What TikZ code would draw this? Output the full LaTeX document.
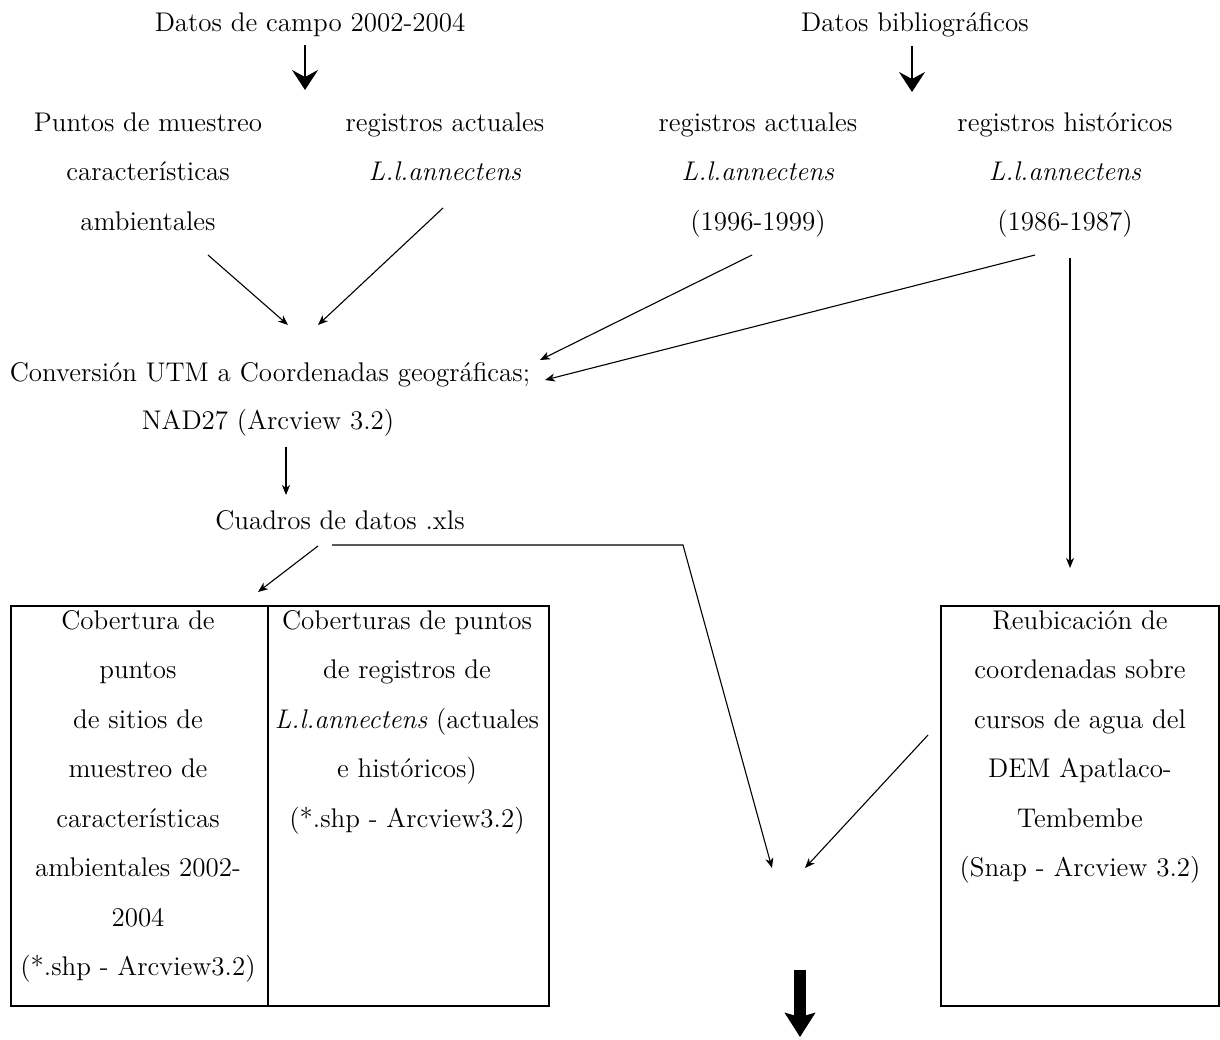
\documentclass[tikz,border=0pt]{standalone}
\usetikzlibrary{arrows.meta}
\begin{document}
\begin{tikzpicture}[x=0.5pt,y=-0.5pt,
  txt/.style={inner sep=0pt, align=center, font=\fontsize{13.5}{24.75}\selectfont},
  thinarrow/.style={line width=0.55pt, -{Stealth[length=5pt,width=4pt,inset=1.5pt]}},
  bigheadarrow/.style={line width=1pt, -{Stealth[length=10pt,width=13pt,inset=3.5pt]}},
  fatarrow/.style={line width=6pt, -{Stealth[length=12pt,width=15pt,inset=2pt]}},
  frame/.style={draw, line width=0.75pt, inner sep=0pt, anchor=north west}]
\useasboundingbox (0,0) rectangle (1220,1039);

% sources
\node[txt] (campo) at (310,25) {Datos de campo 2002-2004};
\node[txt] (biblio) at (915,25) {Datos bibliográficos};

% first level of data
\node[txt, anchor=north] (puntos) at (148,112) {Puntos de muestreo\\características\\ambientales};
\node[txt, anchor=north] (ractL) at (445,112) {registros actuales\\\textit{L.l.annectens}};
\node[txt, anchor=north] (ractR) at (758,112) {registros actuales\\\textit{L.l.annectens}\\(1996-1999)};
\node[txt, anchor=north] (rhist) at (1065,112) {registros históricos\\\textit{L.l.annectens}\\(1986-1987)};

% processing
\node[txt] (conv) at (270,375) {Conversión UTM a Coordenadas geográficas;};
\node[txt] (nad) at (268,423) {NAD27 (Arcview 3.2)};
\node[txt] (cuadros) at (340,520) {Cuadros de datos .xls};

% output boxes
\node[frame, minimum width=128.5pt, minimum height=200pt] (boxA) at (10,605) {};
\node[frame, minimum width=140.5pt, minimum height=200pt] (boxB) at (267,605) {};
\node[frame, minimum width=139pt, minimum height=200pt] (boxC) at (940,605) {};
\node[txt, anchor=north] (textA) at (138,610) {Cobertura de\\puntos\\de sitios de\\muestreo de\\características\\ambientales 2002-\\2004\\(*.shp - Arcview3.2)};
\node[txt, anchor=north] (textB) at (407,610) {Coberturas de puntos\\de registros de\\\textit{L.l.annectens} (actuales\\e históricos)\\(*.shp - Arcview3.2)};
\node[txt, anchor=north] (textC) at (1080,610) {Reubicación de\\coordenadas sobre\\cursos de agua del\\DEM Apatlaco-\\Tembembe\\(Snap - Arcview 3.2)};

% arrow end points
\coordinate (campoTip) at (305,90);
\coordinate (biblioTip) at (912,92);
\coordinate (p1) at (208,255);  \coordinate (q1) at (288,325);
\coordinate (p2) at (443,208);  \coordinate (q2) at (318,325);
\coordinate (p3) at (752,255);  \coordinate (q3) at (540,360);
\coordinate (p4) at (1035,255); \coordinate (q4) at (545,380);
\coordinate (p5) at (286,447);  \coordinate (q5) at (286,495);
\coordinate (p6) at (318,546);  \coordinate (q6) at (258,592);
\coordinate (p7) at (332,545);  \coordinate (k7) at (683,545); \coordinate (q7) at (772,868);
\coordinate (p8) at (1070,258); \coordinate (q8) at (1070,568);
\coordinate (p9) at (928,735);  \coordinate (q9) at (805,868);
\coordinate (fatStart) at (800,970); \coordinate (fatTip) at (800,1037);

% connectors
\draw[bigheadarrow] (campo.south -| campoTip) ++(0,8) -- (campoTip);
\draw[bigheadarrow] (biblio.south -| biblioTip) ++(0,8) -- (biblioTip);
\draw[thinarrow] (p1) -- (q1);
\draw[thinarrow] (p2) -- (q2);
\draw[thinarrow] (p3) -- (q3);
\draw[thinarrow] (p4) -- (q4);
\draw[thinarrow] (p5) -- (q5);
\draw[thinarrow] (p6) -- (q6);
\draw[thinarrow] (p7) -- (k7) -- (q7);
\draw[thinarrow] (p8) -- (q8);
\draw[thinarrow] (p9) -- (q9);
\draw[fatarrow] (fatStart) -- (fatTip);
\end{tikzpicture}
\end{document}
